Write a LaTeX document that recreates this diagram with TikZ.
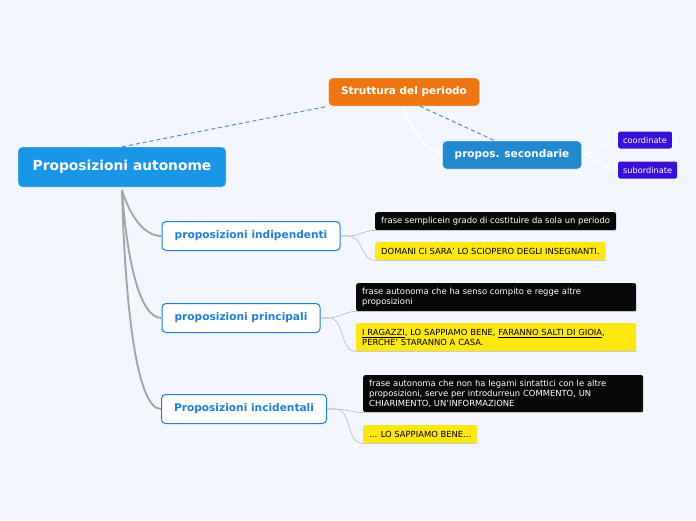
\documentclass[tikz,border=0pt]{standalone}
\usepackage{fontspec}
\setmainfont{DejaVu Sans}
\usetikzlibrary{positioning}
\definecolor{bgcol}{HTML}{F3F6FE}
\definecolor{rootblue}{HTML}{1A96E6}
\definecolor{orangebox}{HTML}{EE7613}
\definecolor{secblue}{HTML}{2389CF}
\definecolor{violetbox}{HTML}{3A10D8}
\definecolor{childblue}{HTML}{1E7FE0}
\definecolor{leafblack}{HTML}{080808}
\definecolor{leafyellow}{HTML}{FFE812}
\definecolor{dashblue}{HTML}{4A8FE0}

\begin{document}
\begin{tikzpicture}[x=1pt,y=-1pt,
  root/.style={rounded corners=4pt, fill=rootblue, draw=white, text=white, minimum width=208pt, minimum height=40pt, font=\bfseries\fontsize{13.8}{16}\selectfont},
  topic/.style={rounded corners=4pt, draw=white, text=white, minimum height=28pt, font=\bfseries\fontsize{10.5}{12}\selectfont},
  tag/.style={rounded corners=2pt, fill=violetbox, text=white, minimum height=17pt, inner xsep=5pt, anchor=west, font=\fontsize{8.2}{9}\selectfont},
  child/.style={rounded corners=4pt, fill=white, draw=childblue, line width=1pt, text=childblue, minimum height=29pt, font=\bfseries\fontsize{10.6}{12}\selectfont},
  leaf/.style={rounded corners=2pt, inner xsep=6pt, inner ysep=4pt, minimum height=18pt, anchor=north west, align=left, font=\fontsize{8.4}{10}\selectfont},
  blackleaf/.style={leaf, fill=leafblack, text=white},
  yellowleaf/.style={leaf, fill=leafyellow, text=black},
  trunk/.style={draw=gray!70, line width=1.9pt},
  twig/.style={draw=gray!55, line width=0.6pt},
  dashlink/.style={draw=dashblue, line width=1pt, dash pattern=on 4pt off 3pt},
  whitelink/.style={draw=white, line width=1.8pt}]
 \useasboundingbox[fill=bgcol] (0,0) rectangle (696,520);

 \node (root) [root] at (122,167) {Proposizioni autonome};
 \node (per) [topic, fill=orangebox, minimum width=151pt] at (404,92) {Struttura del periodo};
 \node (sec) [topic, fill=secblue, minimum width=139pt] at (512,155) {propos. secondarie};
 \node (coo) [tag] at (618,140) {coordinate};
 \node (sub) [tag] at (618,170) {subordinate};

 \node (ind) [child, minimum width=178pt] at (251,236) {proposizioni indipendenti};
 \node (pri) [child, minimum width=158pt] at (241,318) {proposizioni principali};
 \node (inc) [child, minimum width=165pt] at (244,409) {Proposizioni incidentali};

 \node (ind1) [blackleaf] at (375,212) {frase semplicein grado di costituire da sola un periodo};
 \node (ind2) [yellowleaf] at (375,242) {DOMANI CI SARA' LO SCIOPERO DEGLI INSEGNANTI.};
 \node (pri1) [blackleaf, text width=268pt, minimum height=28pt] at (356,283) {frase autonoma che ha senso compito e regge altre\\proposizioni};
 \node (pri2) [yellowleaf, text width=268pt, minimum height=28pt] at (356,323) {\underline{I RAGAZZI}, LO SAPPIAMO BENE, \underline{FARANNO SALTI DI GIOIA},\\PERCHE' STARANNO A CASA.};
 \node (inc1) [blackleaf, text width=268pt, minimum height=37pt] at (363,375) {frase autonoma che non ha legami sintattici con le altre\\proposizioni, serve per introdurreun COMMENTO, UN\\CHIARIMENTO, UN'INFORMAZIONE};
 \node (inc2) [yellowleaf] at (363,425) {... LO SAPPIAMO BENE...};

 \coordinate (base) at (122,190);
 \coordinate (bend) at (404,109);

 % links above the root
 \draw[dashlink] (root.north) -- (per.south west) ++(26,0);
 \draw[dashlink] (per.south) ++(16,0) -- ([xshift=-17pt]sec.north);
 \draw[whitelink] (bend) .. controls (412,130) and (425,152) .. ([yshift=2pt]sec.west);
 \draw[whitelink, line width=1pt] (sec.east) to[out=0,in=180] (coo.west);
 \draw[whitelink, line width=1pt] (sec.east) to[out=0,in=180] (sub.west);

 % branches of the root
 \draw[trunk] (base) .. controls (130,216) and (144,236) .. (ind.west);
 \draw[trunk] (base) .. controls (127,262) and (140,318) .. (pri.west);
 \draw[trunk] (base) .. controls (125,302) and (136,409) .. (inc.west);

 \foreach \from/\to in {ind/ind1, ind/ind2, pri/pri1, pri/pri2, inc/inc1, inc/inc2}
   \draw[twig] (\from.east) -- ++(8,0) to[out=0,in=180] (\to.south west) -- (\to.south east);
\end{tikzpicture}
\end{document}
